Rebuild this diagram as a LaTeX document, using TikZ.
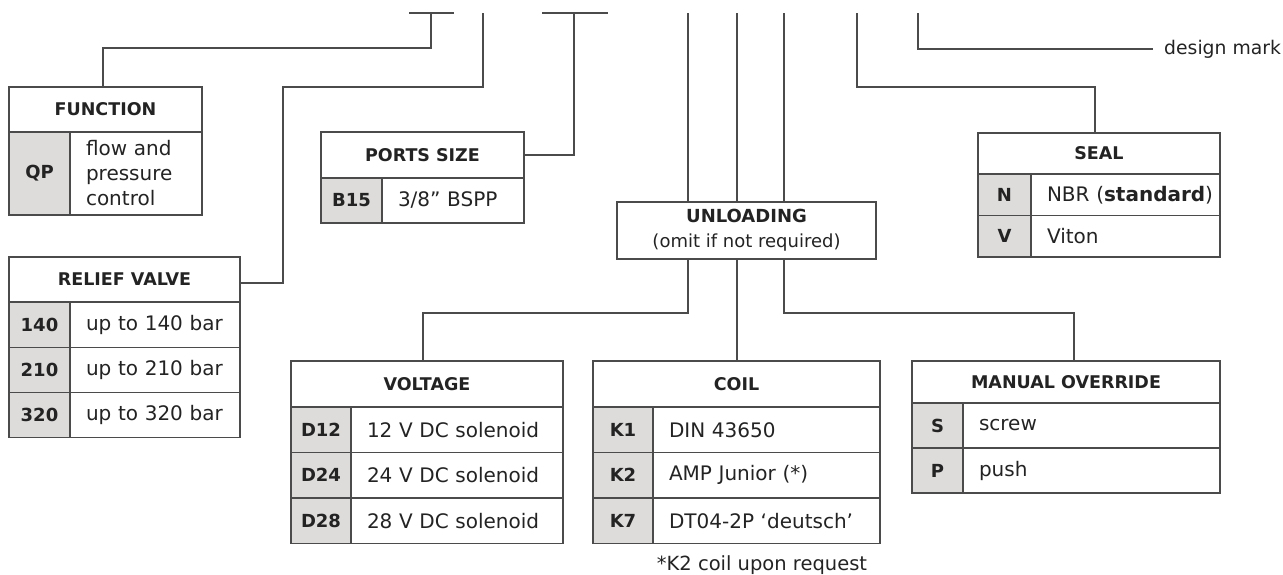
\documentclass[tikz,border=0pt]{standalone}
\usepackage{fontspec}
\setmainfont{DejaVu Sans}
\usepackage{xcolor}
\usetikzlibrary{positioning}
\definecolor{keygray}{RGB}{221,220,218}
\definecolor{ink}{RGB}{35,35,35}
\definecolor{wire}{RGB}{75,75,75}

\begin{document}
\begin{tikzpicture}[
  x=1pt, y=-1pt,
  node distance=0pt,
  cell/.style={draw=wire, line width=1.1pt, outer sep=0pt, inner sep=0pt, text=ink},
  hdr/.style={cell, anchor=north west, font=\fontsize{17.5}{21}\selectfont\bfseries},
  key/.style={cell, fill=keygray, font=\fontsize{18}{22}\selectfont\bfseries},
  desc/.style={cell, inner xsep=16pt, align=left, font=\fontsize{20}{25}\selectfont},
  ln/.style={draw=wire, line width=1.1pt}
]
\useasboundingbox (0,0) rectangle (1283,574);

% function
\node[hdr, minimum width=193pt, minimum height=45pt] (funh) at (9,87) {FUNCTION};
\node[key, minimum width=61pt, minimum height=83pt, below=of funh.south west, anchor=north west] (funk) {QP};
\node[desc, text width=100pt, minimum height=83pt, right=of funk] (fund) {flow and\\pressure\\control};

% relief valve
\node[hdr, minimum width=231pt, minimum height=45pt] (relh) at (9,257) {RELIEF VALVE};
\node[key, minimum width=61pt, minimum height=45.3pt, below=of relh.south west, anchor=north west] (relk1) {140};
\node[desc, text width=138pt, minimum height=45.3pt, right=of relk1] (reld1) {\mbox{up to 140 bar}};
\node[key, minimum width=61pt, minimum height=45.3pt, below=of relk1] (relk2) {210};
\node[desc, text width=138pt, minimum height=45.3pt, right=of relk2] (reld2) {\mbox{up to 210 bar}};
\node[key, minimum width=61pt, minimum height=45.3pt, below=of relk2] (relk3) {320};
\node[desc, text width=138pt, minimum height=45.3pt, right=of relk3] (reld3) {\mbox{up to 320 bar}};

% ports size
\node[hdr, minimum width=203pt, minimum height=46pt] (prth) at (321,132) {PORTS SIZE};
\node[key, minimum width=61pt, minimum height=45pt, below=of prth.south west, anchor=north west] (prtk) {B15};
\node[desc, text width=110pt, minimum height=45pt, right=of prtk] (prtd) {3/8” BSPP};

% unloading
\node[cell, anchor=north west, align=center, minimum width=259pt, minimum height=57pt,
      font=\fontsize{18}{25}\selectfont] (unl) at (617,202)
  {{\bfseries UNLOADING}\\(omit if not required)};

% seal
\node[hdr, minimum width=242pt, minimum height=41pt] (sealh) at (978,133) {SEAL};
\node[key, minimum width=53pt, minimum height=41.5pt, below=of sealh.south west, anchor=north west] (sealk1) {N};
\node[desc, text width=157pt, minimum height=41.5pt, right=of sealk1] (seald1) {\mbox{NBR (\textbf{standard})}};
\node[key, minimum width=53pt, minimum height=41.5pt, below=of sealk1] (sealk2) {V};
\node[desc, text width=157pt, minimum height=41.5pt, right=of sealk2] (seald2) {Viton};

% voltage
\node[hdr, minimum width=272pt, minimum height=46pt] (volh) at (291,361) {VOLTAGE};
\node[key, minimum width=60pt, minimum height=45.5pt, below=of volh.south west, anchor=north west] (volk1) {D12};
\node[desc, text width=180pt, minimum height=45.5pt, right=of volk1] (vold1) {12 V DC solenoid};
\node[key, minimum width=60pt, minimum height=45.5pt, below=of volk1] (volk2) {D24};
\node[desc, text width=180pt, minimum height=45.5pt, right=of volk2] (vold2) {24 V DC solenoid};
\node[key, minimum width=60pt, minimum height=45.5pt, below=of volk2] (volk3) {D28};
\node[desc, text width=180pt, minimum height=45.5pt, right=of volk3] (vold3) {28 V DC solenoid};

% coil
\node[hdr, minimum width=287pt, minimum height=46pt] (coilh) at (593,361) {COIL};
\node[key, minimum width=60pt, minimum height=45.5pt, below=of coilh.south west, anchor=north west] (coilk1) {K1};
\node[desc, text width=195pt, minimum height=45.5pt, right=of coilk1] (coild1) {DIN 43650};
\node[key, minimum width=60pt, minimum height=45.5pt, below=of coilk1] (coilk2) {K2};
\node[desc, text width=195pt, minimum height=45.5pt, right=of coilk2] (coild2) {AMP Junior (*)};
\node[key, minimum width=60pt, minimum height=45.5pt, below=of coilk2] (coilk3) {K7};
\node[desc, text width=195pt, minimum height=45.5pt, right=of coilk3] (coild3) {\mbox{DT04-2P ‘deutsch’}};
\node[text=ink, font=\fontsize{19.5}{22}\selectfont] (note) at (762,565) {*K2 coil upon request};

% manual override
\node[hdr, minimum width=308pt, minimum height=42pt] (manh) at (912,361) {MANUAL OVERRIDE};
\node[key, minimum width=51pt, minimum height=45pt, below=of manh.south west, anchor=north west] (mank1) {S};
\node[desc, text width=225pt, minimum height=45pt, right=of mank1] (mand1) {screw};
\node[key, minimum width=51pt, minimum height=45pt, below=of mank1] (mank2) {P};
\node[desc, text width=225pt, minimum height=45pt, right=of mank2] (mand2) {push};

\node[anchor=west, inner sep=0pt, text=ink, font=\fontsize{18.8}{22}\selectfont] (dmark) at (1164,49) {design mark};

% code positions
\coordinate (tfun) at (431,13);
\coordinate (trel) at (483,13);
\coordinate (tprt) at (574,13);
\coordinate (tvol) at (688,13);
\coordinate (tcoil) at (737,13);
\coordinate (tman) at (784,13);
\coordinate (tseal) at (857,13);
\coordinate (tmark) at (918,13);

\draw[ln] ([xshift=-22pt]tfun) -- ([xshift=23pt]tfun);
\draw[ln] (tfun) -- ++(0,35) -| ([xshift=-2.5pt]funh.north);
\draw[ln] (trel) -- ++(0,74) -| ([xshift=43pt,yshift=-3.5pt]relh.east) -- ([yshift=-3.5pt]relh.east);
\draw[ln] ([xshift=-32pt]tprt) -- ([xshift=34pt]tprt);
\draw[ln] (tprt) |- (prth.east);
\draw[ln] (tvol) -- (tvol |- unl.north);
\draw[ln] (tcoil) -- (tcoil |- unl.north);
\draw[ln] (tman) -- (tman |- unl.north);
\draw[ln] (tvol |- unl.south) -- ++(0,54) -| ([xshift=-4pt]volh.north);
\draw[ln] (tcoil |- unl.south) -- (tcoil |- coilh.north);
\draw[ln] (tman |- unl.south) -- ++(0,54) -| ([xshift=8pt]manh.north);
\draw[ln] (tseal) -- ++(0,74) -| ([xshift=-4pt]sealh.north);
\draw[ln] (tmark) |- ([xshift=-11pt]dmark.west);
\end{tikzpicture}
\end{document}
